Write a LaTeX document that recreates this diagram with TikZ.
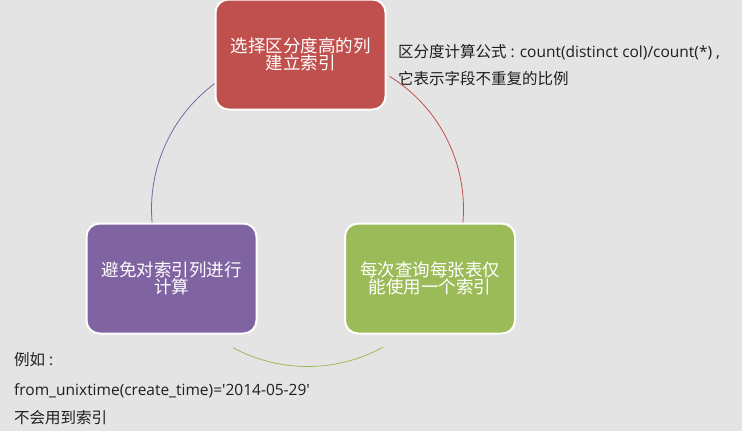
\documentclass[tikz,border=0pt]{standalone}
\usepackage{fontspec}
\setmainfont{Noto Sans CJK SC}
\newfontfamily\lat{Open Sans}
\definecolor{bg}{RGB}{228,228,228}
\definecolor{cred}{RGB}{192,80,77}
\definecolor{cpurple}{RGB}{128,100,162}
\definecolor{cgreen}{RGB}{155,187,89}
\definecolor{ctext}{RGB}{30,30,30}
\begin{document}
\begin{tikzpicture}[x=1pt,y=-1pt,
  box/.style={draw=white,line width=2pt,rounded corners=13pt,minimum width=170pt,minimum height=110pt,
    text=white,align=center,font=\fontsize{17.5}{19}\selectfont,inner sep=0pt},
  note/.style={anchor=west,text=ctext,font=\fontsize{15.5}{17}\selectfont,inner sep=0pt}]
\fill[bg] (0,0) rectangle (742,431);
\useasboundingbox (0,0) rectangle (742,431);
\coordinate (c) at (307.5,209);
\draw[cpurple,line width=0.8pt] (c) ++(-126.3:156) arc[start angle=-126.3,end angle=-185.1,radius=156];
\draw[cred,line width=0.8pt] (c) ++(-58.2:156) arc[start angle=-58.2,end angle=5.1,radius=156];
\draw[cgreen,line width=0.8pt] (c) ++(61.3:157.5) arc[start angle=61.3,end angle=118.2,radius=157.5];
\node[box,fill=cred] (red) at (300.5,54.5) {选择区分度高的列\\[-2pt]建立索引};
\node[box,fill=cpurple] (purple) at (171.5,278.5) {避免对索引列进行\\[-2pt]计算};
\node[box,fill=cgreen] (green) at (430,278.5) {每次查询每张表仅\\[-2pt]能使用一个索引};
\node[note] (n1) at (398,52) {区分度计算公式\hspace{4pt}{\lat :\hspace{5pt}count(distinct col)/count(*)\hspace{4pt},}};
\node[note] (n2) at (398,79) {它表示字段不重复的比例};
\node[note] (e1) at (14,360) {例如\hspace{4pt}{\lat :}};
\node[note] (e2) at (14,391) {\lat from\_unixtime(create\_time)='2014-05-29'};
\node[note] (e3) at (14,418) {不会用到索引};
\end{tikzpicture}
\end{document}
